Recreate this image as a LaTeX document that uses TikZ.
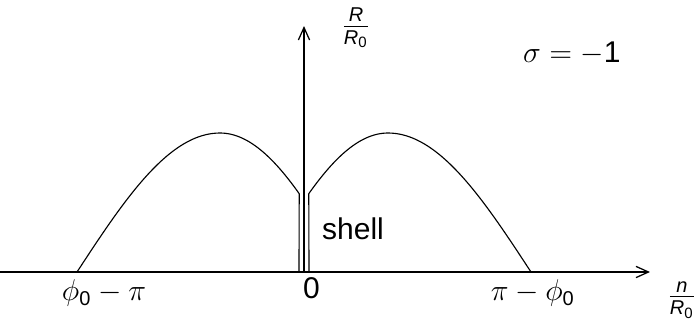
\documentclass[tikz,border=0pt]{standalone}
\usepackage{amsmath}
\usepackage{fontspec}
\setmainfont{Liberation Sans}
\usetikzlibrary{arrows.meta}
\tikzset{
  axis/.style ={-{Straight Barb[length=5pt,width=4.5pt]}, line width=0.5pt},
  curve/.style={line width=0.45pt, line join=round},
  lbl/.style  ={font=\fontsize{12}{14}\selectfont, inner sep=0pt},
}

\begin{document}
\begin{tikzpicture}[x=0.4pt, y=-0.4pt]
\useasboundingbox (0,0) rectangle (696,321);

% ---- axes ----
\coordinate (xstart) at (0,272);
\coordinate (xend)   at (650,272);
\coordinate (origin) at (304,272);
\coordinate (ytop)   at (304,26);
\draw[axis] (xstart) -- (xend);
\draw[axis] (origin) -- (ytop);

% ---- left branch ----
\draw[curve] plot[domain=0:90, samples=40] ({77+143*\x/90}, {272-139*sin(\x)})
  -- plot[domain=90:145.7, samples=30] ({220+128*(\x-90)/90}, {272-139*sin(\x)})
  -- (299,272);

% ---- right branch ----
\draw[curve] plot[domain=0:90, samples=40] ({531-143*\x/90}, {272-139*sin(\x)})
  -- plot[domain=90:145.7, samples=30] ({388-128*(\x-90)/90}, {272-139*sin(\x)})
  -- (309,272);

% ---- labels ----
\node[lbl] (shell) at (353,229)   {shell};
\node[lbl] (zero)  at (311.5,288) {0};
\node[lbl] (lphi)  at (104,293)   {$\phi_{\text{0}}-\pi$};
\node[lbl] (rphi)  at (533,293)   {$\pi-\phi_{\text{0}}$};
\node[lbl] (rfrac) at (356,28)    {$\frac{\textit{R}}{\textit{R}_{\text{0}}}$};
\node[lbl] (nfrac) at (682,300)   {$\frac{\textit{n}}{\textit{R}_{\text{0}}}$};
\node[lbl, anchor=base east] (sigma) at (621,62) {$\sigma=-\text{1}$};

\end{tikzpicture}
\end{document}
